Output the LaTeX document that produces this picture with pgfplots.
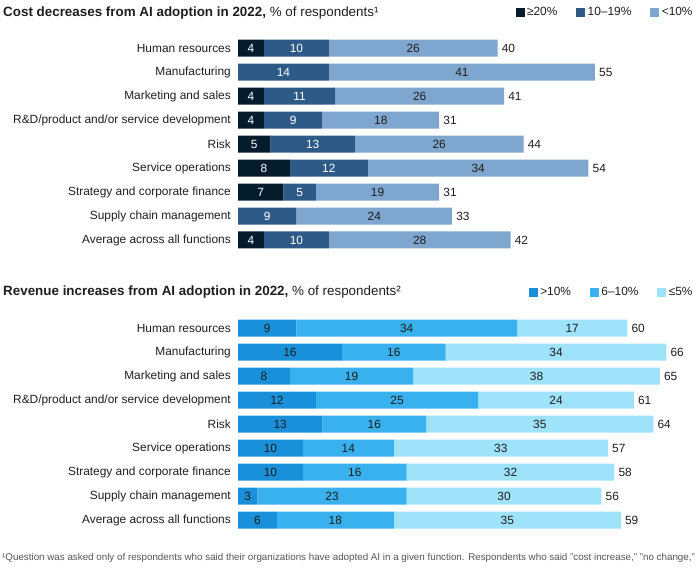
\documentclass[border=0pt]{standalone}
\usepackage{pgfplots}
\usepackage{pgfplotstable}
\pgfplotsset{compat=1.18}
\usepackage{fontspec}
\setmainfont{Liberation Sans}
\definecolor{c1}{HTML}{051C2C}
\definecolor{c2}{HTML}{2E5A88}
\definecolor{c3}{HTML}{7FA6CE}
\definecolor{d1}{HTML}{1A90DA}
\definecolor{d2}{HTML}{3AB1EF}
\definecolor{d3}{HTML}{9FE3FA}
\definecolor{txt}{HTML}{1E1E1E}
\definecolor{foot}{HTML}{555555}
\newcommand\lab{\fontsize{11.9bp}{13bp}\selectfont}
\newcommand\legsq[1]{\addlegendimage{legend image code/.code={\fill[#1] (0bp,-4bp) rectangle (8bp,4bp);}}}

\pgfplotstableread{
row a b c t
0 4 10 26 40
1 0 14 41 55
2 4 11 26 41
3 4 9 18 31
4 5 13 26 44
5 8 12 34 54
6 7 5 19 31
7 0 9 24 33
8 4 10 28 42
}\costdata

\pgfplotstableread{
row a b c t
0 9 34 17 60
1 16 16 34 66
2 8 19 38 65
3 12 25 24 61
4 13 16 35 64
5 10 14 33 57
6 10 16 32 58
7 3 23 30 56
8 6 18 35 59
}\revdata

\pgfplotsset{
  /pgf/number format/assume math mode=true,
  base/.style={
    scale only axis, width=454.3bp, height=216bp,
    xmin=0, xmax=70, ymin=-0.5, ymax=8.5, y dir=reverse,
    axis line style={draw=none}, tick style={draw=none},
    xtick=\empty, clip=false,
  },
  bars/.style={base, xbar stacked, bar width=17bp, ytick={0,...,8},
    yticklabels={Human resources,Manufacturing,Marketing and sales,R\&D/product and/or service development,Risk,Service operations,Strategy and corporate finance,Supply chain management,Average across all functions},
    yticklabel style={font=\lab, text=txt, inner sep=0pt, xshift=-7bp},
    legend style={draw=none, fill=none, font=\lab, text=txt, legend columns=3,
      /tikz/every even column/.append style={column sep=17bp},
      /tikz/every odd column/.append style={column sep=1bp}},
    legend cell align=left,
  },
  labs/.style={base, ytick=\empty},
  lbl/.style 2 args={only marks, mark=*, mark size=0pt, mark options={draw=none, fill=none},
    visualization depends on={\thisrow{#1} \as \val},
    nodes near coords={\ifdim\val pt>0pt \pgfmathprintnumber{\val}\fi},
    every node near coord/.append style={anchor=center, font=\lab, text=#2, inner sep=0pt}},
  tot/.style={only marks, mark=*, mark size=0pt, mark options={draw=none, fill=none},
    visualization depends on={\thisrow{t} \as \val},
    nodes near coords={\pgfmathprintnumber{\val}},
    every node near coord/.append style={anchor=west, font=\lab, text=txt, inner sep=0pt, xshift=4bp}},
}

\begin{document}
\begin{tikzpicture}
\useasboundingbox (0,0) rectangle (698bp,568bp);
\node[anchor=base west, inner sep=0pt, text=txt] at (3bp,551bp)
  {\fontsize{13.4bp}{16bp}\selectfont\textbf{Cost decreases from AI adoption in 2022,} \% of respondents¹};
\node[anchor=base west, inner sep=0pt, text=txt] at (3bp,272bp)
  {\fontsize{13.4bp}{16bp}\selectfont\textbf{Revenue increases from AI adoption in 2022,} \% of respondents²};

% ---- cost decreases ----
\begin{axis}[bars, at={(238bp,316bp)}, anchor=south west,
  legend style={at={(1.012,1.111)}, anchor=east}]
\legsq{c1}\legsq{c2}\legsq{c3}
\addplot[draw=none, fill=c1] table[x=a, y=row] {\costdata};
\addplot[draw=none, fill=c2] table[x=b, y=row] {\costdata};
\addplot[draw=none, fill=c3] table[x=c, y=row] {\costdata};
\legend{≥20\%, 10–19\%, <10\%}
\end{axis}
\begin{axis}[labs, at={(238bp,316bp)}, anchor=south west]
\addplot[lbl={a}{white}] table[x expr=\thisrow{a}/2, y=row] {\costdata};
\addplot[lbl={b}{white}] table[x expr=\thisrow{a}+\thisrow{b}/2, y=row] {\costdata};
\addplot[lbl={c}{txt}] table[x expr=\thisrow{a}+\thisrow{b}+\thisrow{c}/2, y=row] {\costdata};
\addplot[tot] table[x expr=\thisrow{a}+\thisrow{b}+\thisrow{c}, y=row] {\costdata};
\end{axis}

% ---- revenue increases ----
\begin{axis}[bars, at={(238bp,36bp)}, anchor=south west,
  legend style={at={(1.012,1.111)}, anchor=east}]
\legsq{d1}\legsq{d2}\legsq{d3}
\addplot[draw=none, fill=d1] table[x=a, y=row] {\revdata};
\addplot[draw=none, fill=d2] table[x=b, y=row] {\revdata};
\addplot[draw=none, fill=d3] table[x=c, y=row] {\revdata};
\legend{>10\%, 6–10\%, ≤5\%}
\end{axis}
\begin{axis}[labs, at={(238bp,36bp)}, anchor=south west]
\addplot[lbl={a}{txt}] table[x expr=\thisrow{a}/2, y=row] {\revdata};
\addplot[lbl={b}{txt}] table[x expr=\thisrow{a}+\thisrow{b}/2, y=row] {\revdata};
\addplot[lbl={c}{txt}] table[x expr=\thisrow{a}+\thisrow{b}+\thisrow{c}/2, y=row] {\revdata};
\addplot[tot] table[x expr=\thisrow{a}+\thisrow{b}+\thisrow{c}, y=row] {\revdata};
\end{axis}

\node[anchor=base west, inner sep=0pt, text=foot] at (2bp,8bp)
  {\fontsize{9.8bp}{11bp}\selectfont ¹Question was asked only of respondents who said their organizations have adopted AI in a given function. Respondents who said "cost increase," "no change,"};
\end{tikzpicture}
\end{document}
